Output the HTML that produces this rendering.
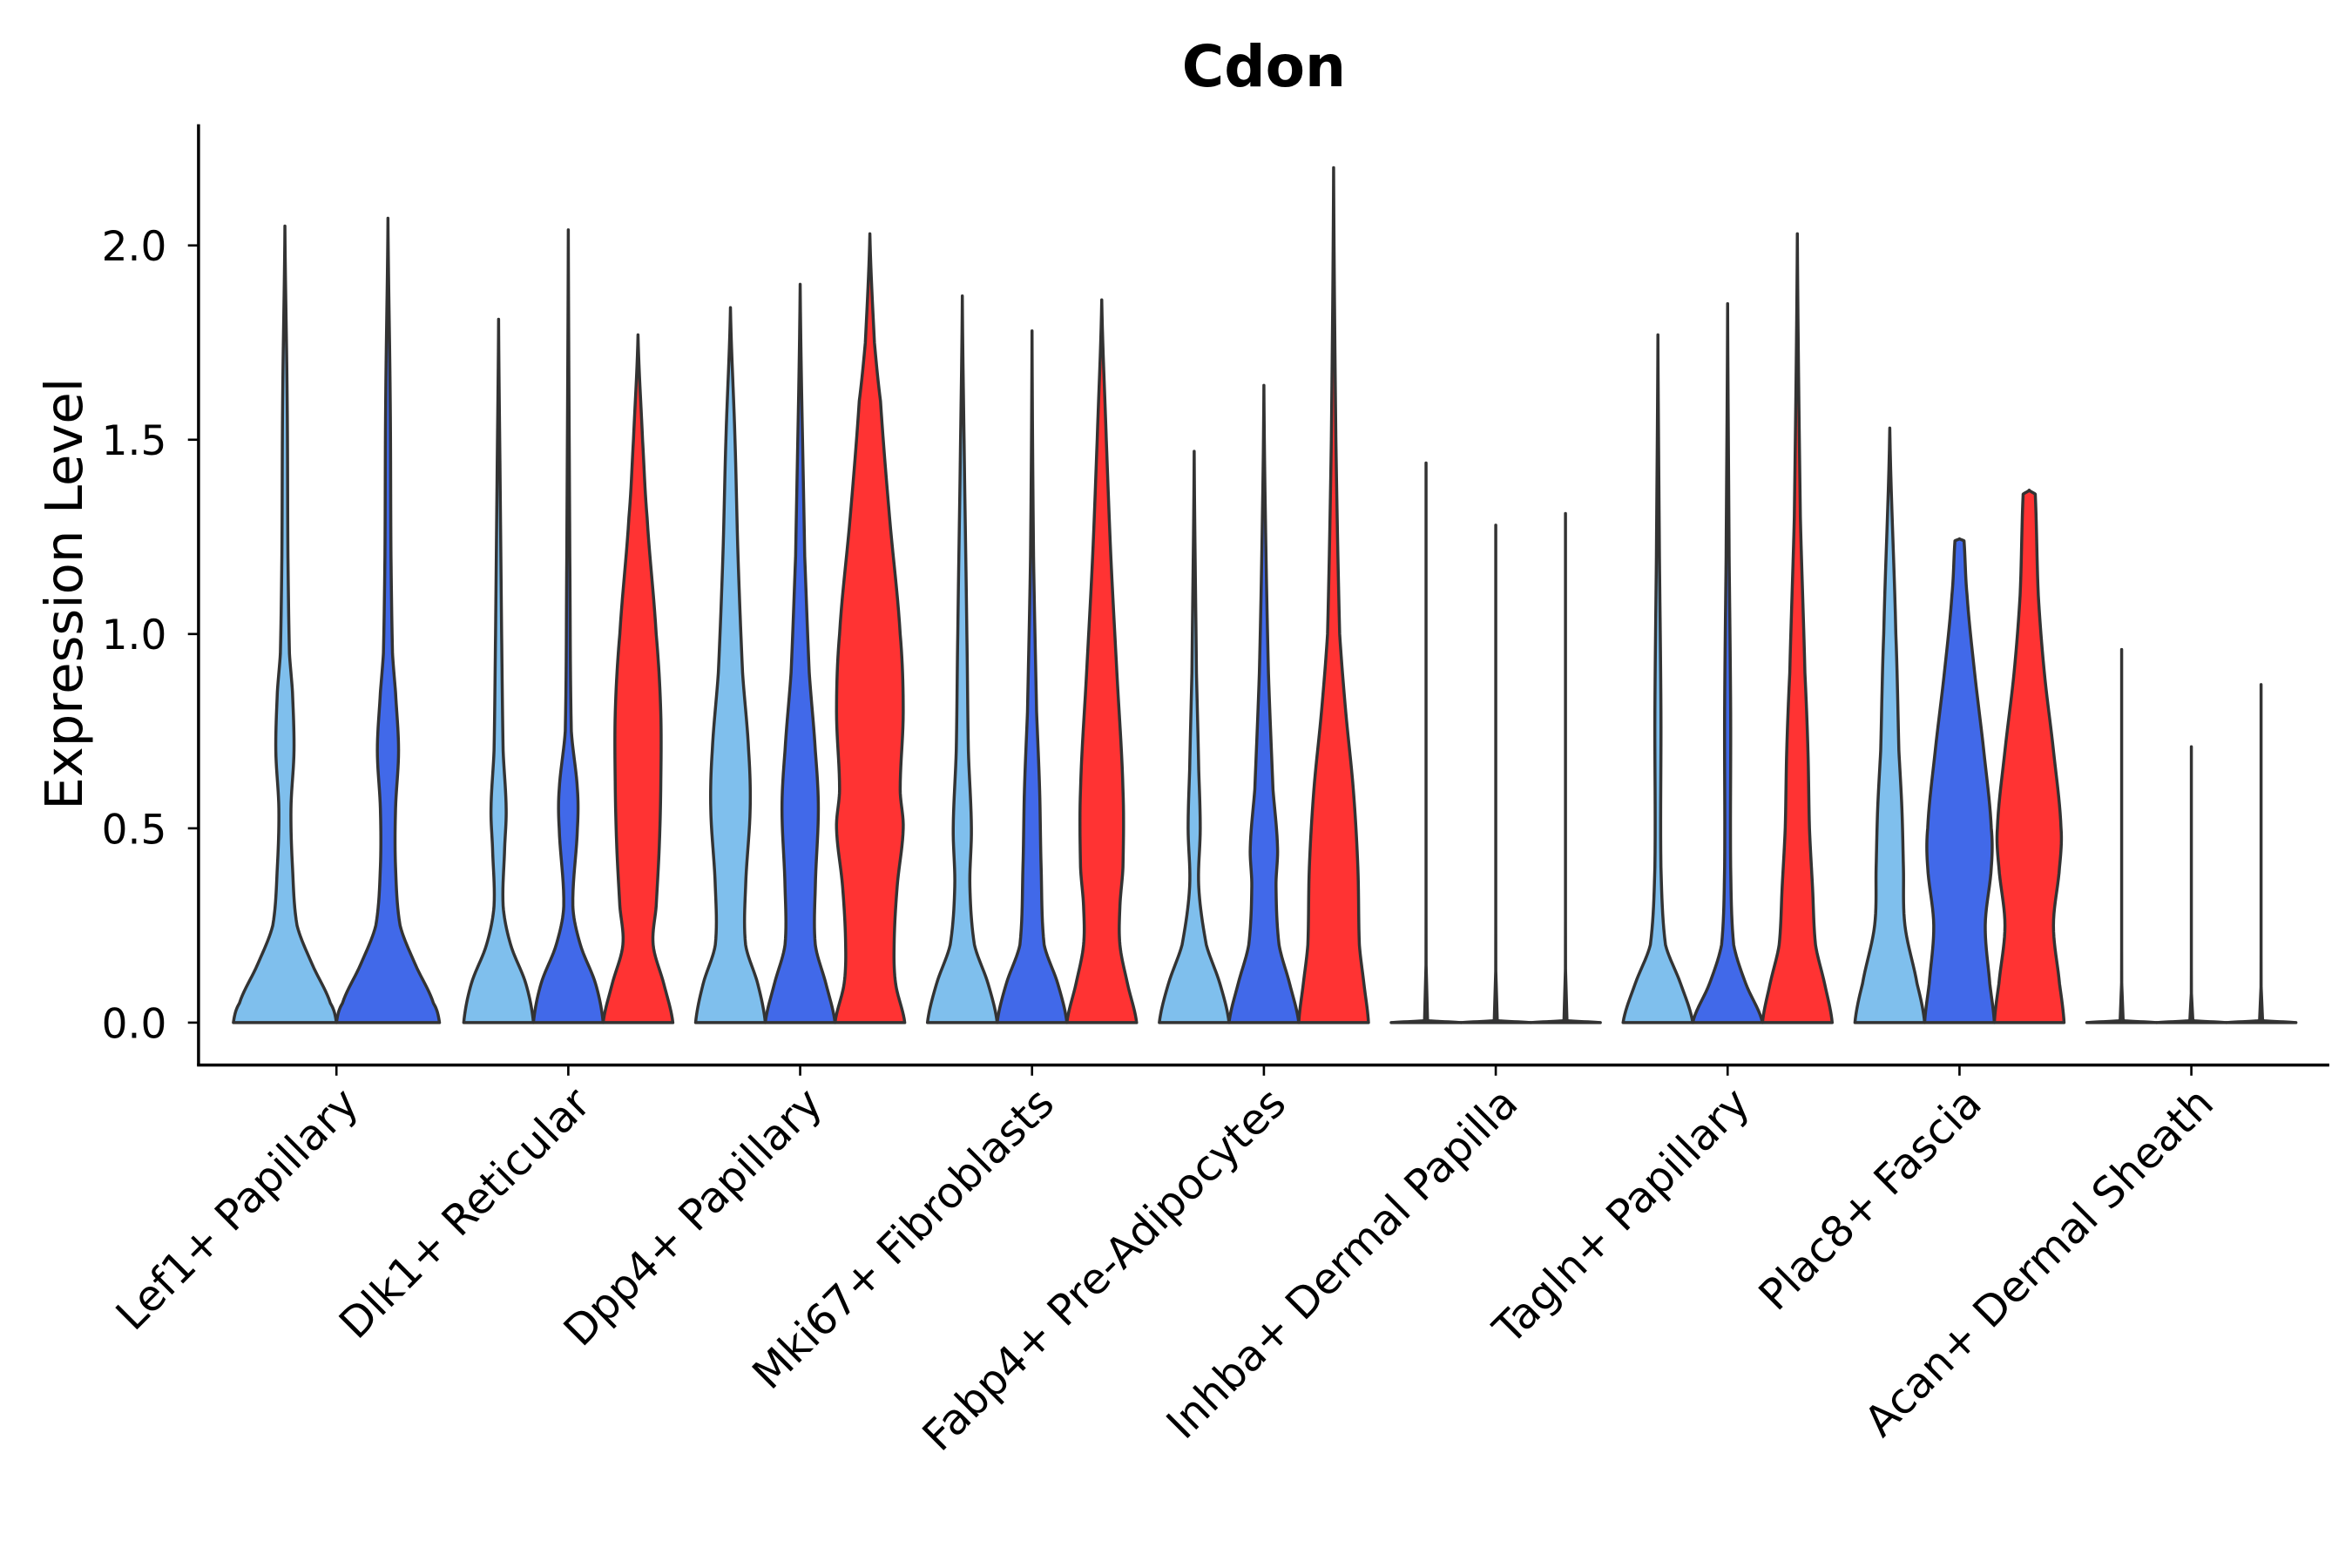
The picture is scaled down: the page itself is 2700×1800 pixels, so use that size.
<!DOCTYPE html>
<html><head><meta charset="utf-8"><style>
html,body{margin:0;padding:0;background:#fff;}
svg{display:block;}
text{font-family:"DejaVu Sans","Liberation Sans",sans-serif;fill:#000;}
</style></head><body>
<svg id="chart" width="2700" height="1800" viewBox="0 0 1552 1035" preserveAspectRatio="none">
<text x="834" y="57" text-anchor="middle" font-size="38" font-weight="bold">Cdon</text>
<text transform="translate(54,392) rotate(-90)" text-anchor="middle" font-size="34">Expression Level</text>
<g id="plot"></g>
</svg>
<script>
const categories=["Lef1+ Papillary","Dlk1+ Reticular","Dpp4+ Papillary","Mki67+ Fibroblasts","Fabp4+ Pre-Adipocytes","Inhba+ Dermal Papilla","Tagln+ Papillary","Plac8+ Fascia","Acan+ Dermal Sheath"];
const yTicks=[0,0.5,1,1.5,2];
const yTickLabels=["0.0","0.5","1.0","1.5","2.0"];
const seriesColors=["#7FBFED","#4169E9","#FF3333"];
const lef1=[[0,[[0,34],[0.05,30],[0.15,18],[0.25,8],[0.4,5],[0.55,4],[0.7,6],[0.85,5],[0.95,3],[1.2,2],[1.6,1.5],[2.05,0]]],
 [1,[[0,34],[0.05,30],[0.15,18],[0.25,8],[0.4,5],[0.55,5],[0.7,7],[0.85,5],[0.95,3],[1.2,2],[1.6,1.5],[2.07,0]]]];
const dlk1=[[0,[[0,23],[0.1,18],[0.2,8],[0.3,3],[0.45,4],[0.55,5],[0.7,3],[1.0,2],[1.4,1],[1.81,0]]],
 [1,[[0,23],[0.1,18],[0.2,8],[0.3,3],[0.5,6],[0.6,6],[0.75,2],[1.2,1],[2.04,0]]],
 [2,[[0,23],[0.1,17],[0.2,10],[0.3,12],[0.45,14],[0.6,15],[0.8,15],[1.0,12],[1.3,6],[1.5,3],[1.77,0]]]];
const dpp4=[[0,[[0,23],[0.1,18],[0.2,10],[0.35,10],[0.55,13],[0.7,12],[0.9,8],[1.2,5],[1.5,3],[1.84,0]]],
 [1,[[0,23],[0.1,17],[0.2,10],[0.35,10],[0.55,12],[0.7,10],[0.9,6],[1.2,3],[1.9,0]]],
 [2,[[0,23],[0.1,17],[0.2,16],[0.35,18],[0.5,22],[0.6,20],[0.8,22],[1.0,20],[1.3,13],[1.6,7],[1.75,3],[2.03,0]]]];
const mki67=[[0,[[0,23],[0.1,17],[0.2,8],[0.35,5],[0.5,6],[0.7,4],[1.0,3],[1.4,1.5],[1.87,0]]],
 [1,[[0,23],[0.1,17],[0.2,8],[0.4,6],[0.6,5],[0.8,3],[1.2,1],[1.78,0]]],
 [2,[[0,23],[0.1,17],[0.2,12],[0.3,12],[0.4,14],[0.6,14],[0.9,10],[1.2,6],[1.5,3],[1.86,0]]]];
const fabp4=[[0,[[0,23],[0.1,17],[0.2,8],[0.35,3],[0.5,4],[0.65,3],[0.9,1.5],[1.47,0]]],
 [1,[[0,23],[0.1,17],[0.2,10],[0.35,8],[0.45,9],[0.6,6],[0.9,3],[1.3,1],[1.64,0]]],
 [2,[[0,23],[0.1,20],[0.2,17],[0.4,16],[0.6,13],[0.8,8],[1.0,4],[1.5,1.5],[2.2,0]]]];
const inhba=[[0,[[0,23],[0.005,1],[1.44,0]]],[1,[[0,23],[0.005,1],[1.28,0]]],[2,[[0,23],[0.005,1],[1.31,0]]]];
const tagln=[[0,[[0,23],[0.1,15],[0.2,5],[0.4,2],[0.8,2],[1.2,1],[1.77,0]]],
 [1,[[0,23],[0.1,12],[0.2,4],[0.4,2],[0.8,2],[1.2,1],[1.85,0]]],
 [2,[[0,23],[0.1,18],[0.2,12],[0.35,10],[0.5,8],[0.7,7],[0.9,5],[1.3,2],[2.03,0]]]];
const plac8=[[0,[[0,23],[0.1,18],[0.25,10],[0.4,9],[0.55,8],[0.7,6],[1.0,4],[1.53,0]]],
 [1,[[0,23],[0.1,20],[0.25,17],[0.4,21],[0.5,21],[0.7,16],[0.9,10],[1.1,5],[1.24,3],[1.245,0]]],
 [2,[[0,23],[0.1,20],[0.25,16],[0.4,20],[0.5,21],[0.7,16],[0.9,10],[1.1,6],[1.36,4],[1.37,0]]]];
const acan=[[0,[[0,23],[0.005,1],[0.96,0]]],[1,[[0,23],[0.005,1],[0.71,0]]],[2,[[0,23],[0.005,1],[0.87,0]]]];
const groups=[lef1,dlk1,dpp4,mki67,fabp4,inhba,tagln,plac8,acan];

const NS="http://www.w3.org/2000/svg";
const plot=document.getElementById('plot');
const X0=131,X1=1537,YTOP=82,YAX=703;
function yScale(v){return 675-v*256.5;}
function xScale(i){return 222+i*153;}
function mk(tag,attrs){const e=document.createElementNS(NS,tag);for(const k in attrs)e.setAttribute(k,attrs[k]);plot.appendChild(e);return e;}
function smooth(pts){
  const out=[];
  for(let i=0;i<pts.length-1;i++){
    const p0=pts[Math.max(0,i-1)],p1=pts[i],p2=pts[i+1],p3=pts[Math.min(pts.length-1,i+2)];
    for(let t=0;t<1;t+=0.1){
      const t2=t*t,t3=t2*t;
      const f=(a,b,c,d)=>0.5*((2*b)+(-a+c)*t+(2*a-5*b+4*c-d)*t2+(-a+3*b-3*c+d)*t3);
      out.push([p1[0]+(p2[0]-p1[0])*t,Math.max(0,f(p0[1],p1[1],p2[1],p3[1]))]);
    }
  }
  out.push(pts[pts.length-1]);return out;
}
groups.forEach((g,gi)=>{
  const off=g.length===2?34:46;
  g.forEach((v,vi)=>{
    const cx=xScale(gi)+(g.length===2?(vi===0?-off:off):(vi-1)*off);
    const prof=smooth(v[1]);
    let d="M"+(cx-prof[0][1])+","+yScale(prof[0][0]);
    prof.forEach(p=>{d+=" L"+(cx-p[1]).toFixed(2)+","+yScale(p[0]).toFixed(2);});
    const top=prof[prof.length-1];
    d+=" L"+(cx+top[1]).toFixed(2)+","+yScale(top[0]).toFixed(2);
    for(let i=prof.length-1;i>=0;i--){d+=" L"+(cx+prof[i][1]).toFixed(2)+","+yScale(prof[i][0]).toFixed(2);}
    d+=" Z";
    const path=mk('path',{d:d,fill:seriesColors[v[0]],stroke:'#333',"stroke-width":2,"stroke-linejoin":"round"});
    
    
  });
  const t=mk('line',{x1:xScale(gi),x2:xScale(gi),y1:YAX,y2:YAX+7,stroke:'#000',"stroke-width":1.5});
  
  
  const lbl=mk('text',{x:0,y:0,"font-size":28,"text-anchor":"end",transform:`translate(${xScale(gi)+16},${YAX+27}) rotate(-45)`});
  lbl.textContent=categories[gi];
  
  
});
yTicks.forEach((v,i)=>{
  const t=mk('line',{x1:X0-7,x2:X0,y1:yScale(v),y2:yScale(v),stroke:'#000',"stroke-width":1.5});
  
  
  const l=mk('text',{x:X0-21,y:yScale(v)+10,"font-size":27,"text-anchor":"end"});
  l.textContent=yTickLabels[i];
  
  
});
const ya=mk('line',{x1:X0,x2:X0,y1:YTOP,y2:YAX,stroke:'#000',"stroke-width":2});


const xa=mk('line',{x1:X0-1,x2:X1,y1:YAX,y2:YAX,stroke:'#000',"stroke-width":2});


</script>
</body></html>
